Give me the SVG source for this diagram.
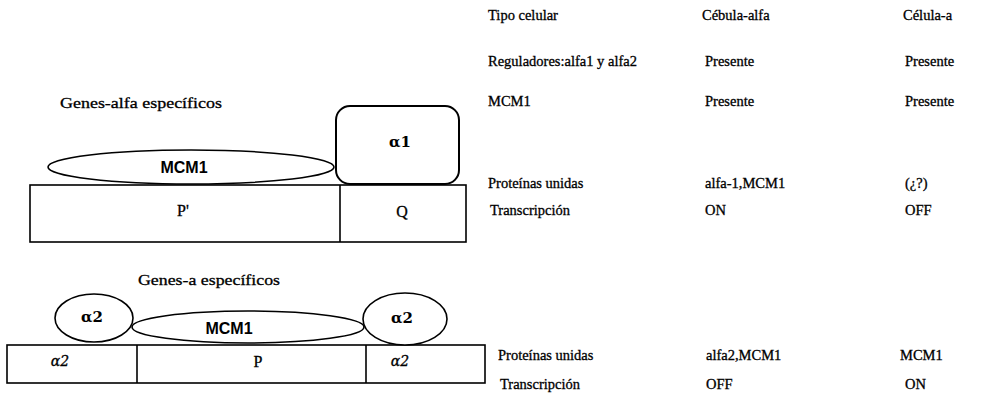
<svg xmlns="http://www.w3.org/2000/svg" width="982" height="401" viewBox="0 0 982 401">
  <style>
    .shape { fill: #fff; stroke: #000; stroke-width: 1.6; }
    .line { stroke: #000; stroke-width: 1.6; fill: none; }
    .tbl { font-family: "Liberation Serif", "Times New Roman", serif; font-size: 14.5px; fill: #000; stroke: #000; stroke-width: 0.3; }
    .cap { font-family: "Liberation Serif", "Times New Roman", serif; font-size: 15px; fill: #000; stroke: #000; stroke-width: 0.3; }
    .prot { font-family: "Liberation Sans", Arial, sans-serif; font-size: 16px; font-weight: bold; fill: #000; text-anchor: middle; }
    .greek { font-family: "DejaVu Serif", "Liberation Serif", serif; font-size: 15px; font-weight: bold; fill: #000; text-anchor: middle; }
    .site { font-family: "Liberation Serif", "Times New Roman", serif; font-size: 16px; fill: #000; text-anchor: middle; stroke: #000; stroke-width: 0.3; }
    .ital { font-family: "DejaVu Serif", "Liberation Serif", serif; font-size: 14px; font-style: italic; }
  </style>

  <rect width="982" height="401" fill="#fff"/>

  <!-- alpha-specific genes -->
  <g id="caption-alfa">
    <text class="cap" x="60" y="108" textLength="162" lengthAdjust="spacingAndGlyphs">Genes-alfa específicos</text>
  </g>

  <g id="promoter-alfa">
    <rect class="shape" x="30" y="185" width="436" height="57"/>
    <line class="line" x1="340" y1="185" x2="340" y2="242"/>
    <text class="site" x="183" y="216">P'</text>
    <text class="site" x="402" y="217">Q</text>
  </g>

  <g id="mcm1-alfa">
    <ellipse class="shape" cx="191" cy="167" rx="143" ry="17"/>
    <text class="prot" x="184" y="173">MCM1</text>
  </g>

  <g id="alpha1">
    <rect class="shape" x="336" y="106" width="123" height="78" rx="14" ry="14" style="stroke-width:2"/>
    <text class="greek" x="400" y="147">α1</text>
  </g>

  <!-- a-specific genes -->
  <g id="caption-a">
    <text class="cap" x="138" y="285" textLength="142" lengthAdjust="spacingAndGlyphs">Genes-a específicos</text>
  </g>

  <g id="promoter-a">
    <rect class="shape" x="7" y="345" width="478" height="38"/>
    <line class="line" x1="137" y1="345" x2="137" y2="383"/>
    <line class="line" x1="366" y1="345" x2="366" y2="383"/>
    <text class="site ital" x="60" y="366">α2</text>
    <text class="site" x="258" y="367">P</text>
    <text class="site ital" x="400" y="366">α2</text>
  </g>

  <g id="mcm1-a">
    <ellipse class="shape" cx="248" cy="327" rx="116" ry="16"/>
    <text class="prot" x="229" y="334">MCM1</text>
  </g>

  <g id="alpha2-left">
    <ellipse class="shape" cx="94" cy="318" rx="39" ry="24"/>
    <text class="greek" x="92" y="322">α2</text>
  </g>

  <g id="alpha2-right">
    <ellipse class="shape" cx="405" cy="319" rx="42" ry="26"/>
    <text class="greek" x="402" y="323">α2</text>
  </g>

  <!-- comparison table -->
  <g id="table">
    <text class="tbl" x="488" y="20">Tipo celular</text>
    <text class="tbl" x="702" y="20">Cébula-alfa</text>
    <text class="tbl" x="903" y="20">Célula-a</text>

    <text class="tbl" x="488" y="66">Reguladores:alfa1  y alfa2</text>
    <text class="tbl" x="705" y="66">Presente</text>
    <text class="tbl" x="905" y="66">Presente</text>

    <text class="tbl" x="488" y="106">MCM1</text>
    <text class="tbl" x="705" y="106">Presente</text>
    <text class="tbl" x="905" y="106">Presente</text>

    <text class="tbl" x="488" y="188">Proteínas unidas</text>
    <text class="tbl" x="705" y="188">alfa-1,MCM1</text>
    <text class="tbl" x="905" y="188">(¿?)</text>

    <text class="tbl" x="490" y="215">Transcripción</text>
    <text class="tbl" x="705" y="215">ON</text>
    <text class="tbl" x="905" y="215">OFF</text>

    <text class="tbl" x="498" y="360">Proteínas unidas</text>
    <text class="tbl" x="706" y="360">alfa2,MCM1</text>
    <text class="tbl" x="900" y="360">MCM1</text>

    <text class="tbl" x="500" y="389">Transcripción</text>
    <text class="tbl" x="706" y="389">OFF</text>
    <text class="tbl" x="905" y="389">ON</text>
  </g>
</svg>
